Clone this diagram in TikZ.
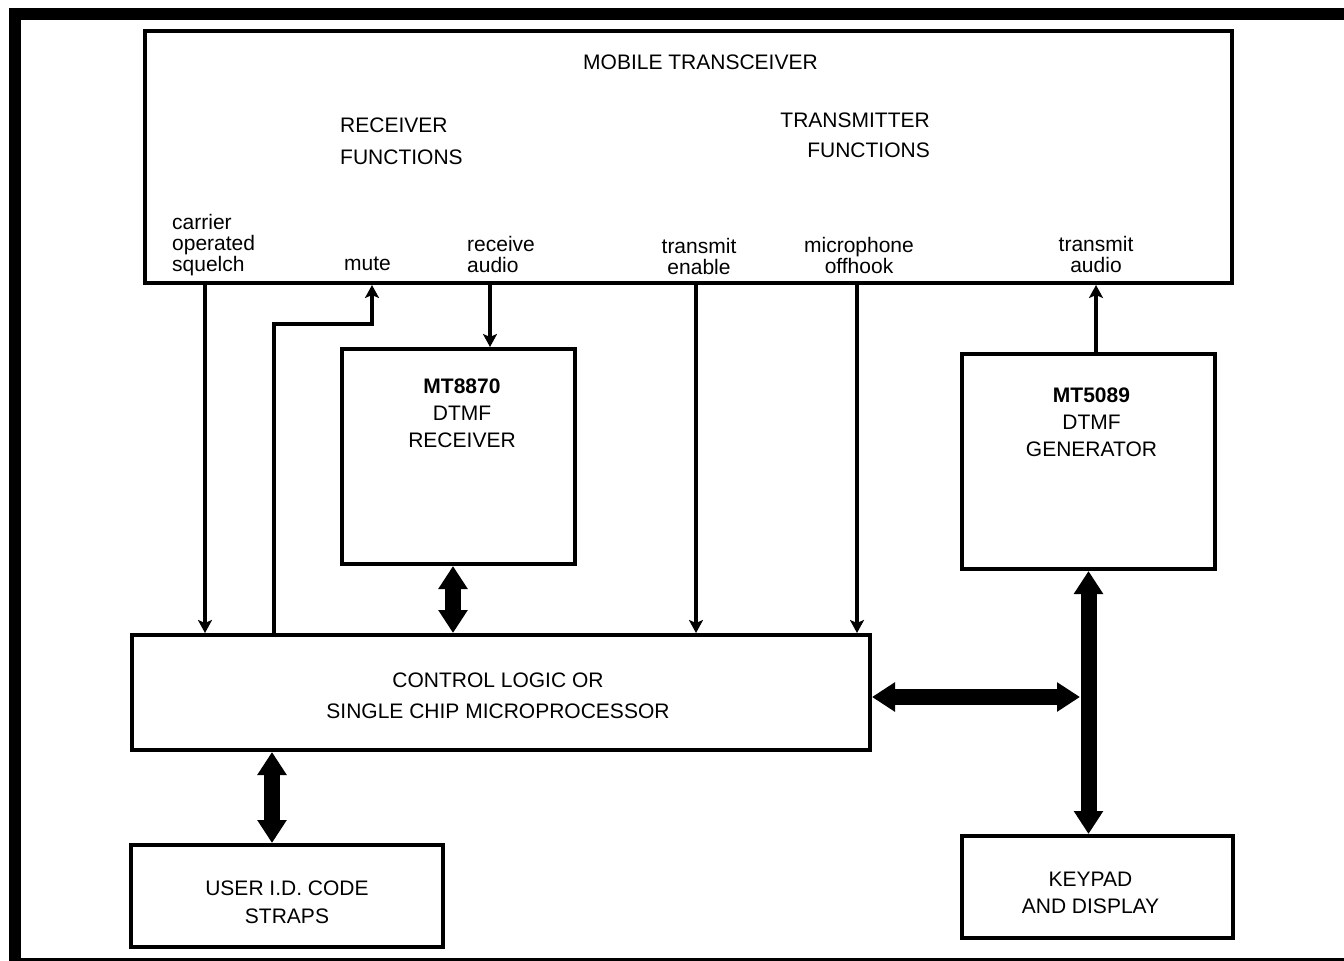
\documentclass[tikz,border=0pt]{standalone}
\usepackage{fontspec}
\setmainfont{Liberation Sans}
\usetikzlibrary{arrows.meta,positioning}

\begin{document}
\begin{tikzpicture}[x=1pt,y=-1pt,font=\fontsize{21}{27}\selectfont,
		blk/.style={draw,line width=4pt,inner sep=0pt,align=center},
		lbl/.style={inner sep=0pt,align=center},
		sig/.style={line width=4pt,-{Stealth[length=13pt,width=14pt,inset=3pt]}},
		bus/.style={line width=16pt,{Triangle[length=23pt,width=28pt]}-{Triangle[length=23pt,width=28pt]}}]
	\useasboundingbox (0,0) rectangle (1344,961);
	\clip (0,0) rectangle (1344,961);
	\draw[line width=12pt] (1370,14) -- (14.5,14) -- (14.5,964) -- (1370,964);

	\node(trx)  [blk,minimum width=1087,minimum height=252] at (688.5,157) {};
	\node(rx)   [blk,minimum width=233,minimum height=215] at (458.5,456.5) {};
	\node(gen)  [blk,minimum width=253,minimum height=215] at (1088.5,461.5) {};
	\node(ctl)  [blk,minimum width=738,minimum height=115] at (501,692.5) {};
	\node(user) [blk,minimum width=312,minimum height=102] at (287,896) {};
	\node(key)  [blk,minimum width=271,minimum height=102] at (1097.5,887) {};

	\node(title) [lbl,anchor=base] at (700.5,69) {MOBILE TRANSCEIVER};
	\node(rxf) [lbl,align=left,anchor=west,font=\fontsize{21}{32}\selectfont] at (340,141) {RECEIVER\\FUNCTIONS};
	\node(txf) [lbl,align=right,anchor=east,font=\fontsize{21}{30}\selectfont] at (930,135.5) {TRANSMITTER\\FUNCTIONS};
	\node(cos) [lbl,align=left,anchor=west,font=\fontsize{21}{21}\selectfont] at (172,245) {carrier\\operated\\squelch};
	\node(mute) [lbl,anchor=base] at (367.5,270) {mute};
	\node(rxa) [lbl,align=left,anchor=west,font=\fontsize{21}{21}\selectfont] at (467,254) {receive\\audio};
	\node(txe) [lbl,font=\fontsize{21}{21}\selectfont] at (699,256) {transmit\\enable};
	\node(mic) [lbl,font=\fontsize{21}{21}\selectfont] at (859,255.5) {microphone\\offhook};
	\node(txa) [lbl,font=\fontsize{21}{21}\selectfont] at (1096,254) {transmit\\audio};
	\node(rxt) [lbl,anchor=north,below=32pt of rx.north,xshift=3.5pt] {\textbf{MT8870}\\DTMF\\RECEIVER};
	\node(gent) [lbl,anchor=north,below=36pt of gen.north,xshift=3pt] {\textbf{MT5089}\\DTMF\\GENERATOR};
	\node(ctlt) [lbl,font=\fontsize{21}{31}\selectfont] at ([shift={(-3,3)}]ctl.center) {CONTROL LOGIC OR\\SINGLE CHIP MICROPROCESSOR};
	\node(usert) [lbl,font=\fontsize{21}{28}\selectfont] at ([shift={(0,6)}]user.center) {USER I.D. CODE\\STRAPS};
	\node(keyt) [lbl] at ([shift={(-7,6)}]key.center) {KEYPAD\\AND DISPLAY};

	\coordinate (sq) at (205,0);
	\coordinate (mk) at (274,324);
	\coordinate (mu) at (372,0);
	\coordinate (ra) at (490,0);
	\coordinate (te) at (696,0);
	\coordinate (mo) at (857,0);
	\coordinate (ta) at (1096,0);
	\coordinate (rc) at (453,0);
	\coordinate (uc) at (272,0);
	\coordinate (bb) at (1080,697);

	\draw[sig] (sq |- trx.south) -- (sq |- ctl.north);
	\draw[sig] (mk |- ctl.north) -- (mk) -| (mu |- trx.south);
	\draw[sig] (ra |- trx.south) -- (ra |- rx.north);
	\draw[sig] (te |- trx.south) -- (te |- ctl.north);
	\draw[sig] (mo |- trx.south) -- (mo |- ctl.north);
	\draw[sig] (ta |- gen.north) -- (ta |- trx.south);

	\draw[bus] (rc |- rx.south) -- (rc |- ctl.north);
	\draw[bus] (uc |- ctl.south) -- (uc |- user.north);
	\draw[bus] (gen.south) -- (gen.south |- key.north);
	\draw[bus] (ctl.east |- bb) -- (bb);
\end{tikzpicture}
\end{document}
